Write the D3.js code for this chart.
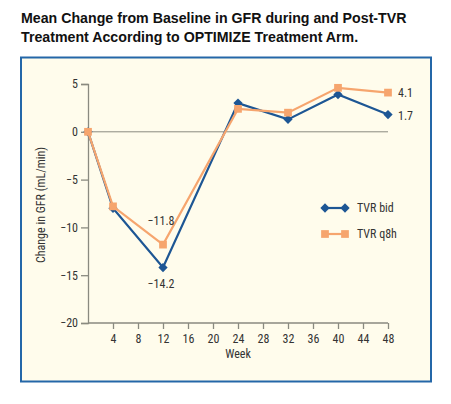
<!DOCTYPE html>
<html><head><meta charset="utf-8">
<script src="https://cdn.jsdelivr.net/npm/d3@7"></script>
<style>
body{margin:0;background:#fff;}
svg text{font-family:"Liberation Sans Narrow","Roboto Condensed","Liberation Sans",Arial,sans-serif;}
</style></head><body>
<svg id="c" width="451" height="404"></svg>
<script>
const weeks = [0, 4, 12, 24, 32, 40, 48];
const tvrBid = [0, -8.0, -14.2, 3.0, 1.3, 3.9, 1.8];
const tvrQ8h = [0, -7.8, -11.8, 2.4, 2.0, 4.6, 4.1];
const xTicks = [4, 8, 12, 16, 20, 24, 28, 32, 36, 40, 44, 48];
const yTicks = [5, 0, -5, -10, -15, -20];
const seriesNames = ["TVR bid", "TVR q8h"];
const annotations = [
  {week: 12, value: -11.8, text: "\u221211.8", series: 1},
  {week: 12, value: -14.2, text: "\u221214.2", series: 0},
  {week: 48, value: 4.1, text: "4.1", series: 1},
  {week: 48, value: 1.7, text: "1.7", series: 0}
];

const svg = d3.select("#c");
const blue = "#1d5694", orange = "#f6a56e", axisCol = "#8a8a80", txt = "#333333";

// title
svg.append("text").attr("x", 21).attr("y", 23).text("Mean Change from Baseline in GFR during and Post-TVR")
  .style("font-family", "Liberation Sans, Arial, sans-serif").style("font-weight", "bold").style("font-size", "14.2px").attr("fill", "#111");
svg.append("text").attr("x", 21).attr("y", 42).text("Treatment According to OPTIMIZE Treatment Arm.")
  .style("font-family", "Liberation Sans, Arial, sans-serif").style("font-weight", "bold").style("font-size", "14.2px").attr("fill", "#111");

// panel
svg.append("rect").attr("x", 21).attr("y", 57.5).attr("width", 410).attr("height", 324)
  .attr("fill", "#fffcec").attr("stroke", "#2467a8").attr("stroke-width", 2);

const x = d3.scaleLinear().domain([0, 48]).range([88, 388]);
const y = d3.scaleLinear().domain([-20, 5]).range([323, 84]);

// zero line
svg.append("line").attr("x1", x(0)).attr("x2", x(48)).attr("y1", y(0)).attr("y2", y(0))
  .attr("stroke", axisCol).attr("stroke-width", 1);

// axes
const yAxis = svg.append("g").attr("transform", `translate(${x(0)},0)`)
  .call(d3.axisLeft(y).tickValues(yTicks).tickSize(7).tickPadding(3)
    .tickFormat(d => d < 0 ? "\u2212" + Math.abs(d) : d));
const xAxis = svg.append("g").attr("transform", `translate(0,${y(-20)})`)
  .call(d3.axisBottom(x).tickValues(xTicks).tickSize(6).tickPadding(5));
[xAxis, yAxis].forEach(g => {
  g.select(".domain").attr("stroke", axisCol).attr("stroke-width", 1.3);
  g.selectAll(".tick line").attr("stroke", axisCol).attr("stroke-width", 1.3);
  g.selectAll(".tick text").attr("fill", txt).style("font-size", "12px");
});
xAxis.select(".domain").attr("d", `M${x(0)},0H${x(48)}`);

// axis titles
svg.append("text").attr("x", x(24)).attr("y", 358).attr("text-anchor", "middle")
  .attr("fill", txt).style("font-size", "12px").text("Week");
svg.append("text").attr("transform", "translate(45,205) rotate(-90)").attr("text-anchor", "middle")
  .attr("fill", txt).style("font-size", "12px").text("Change in GFR (mL/min)");

const line = d3.line().x(d => x(d[0])).y(d => y(d[1]));
const series = [
  {name: seriesNames[0], vals: tvrBid, color: blue, shape: d3.symbolDiamond2, size: 55},
  {name: seriesNames[1], vals: tvrQ8h, color: orange, shape: d3.symbolSquare, size: 60}
];
series.forEach(s => {
  const pts = weeks.map((w, i) => [w, s.vals[i]]);
  svg.append("path").attr("d", line(pts)).attr("fill", "none").attr("stroke", s.color).attr("stroke-width", 2.2);
  svg.selectAll(null).data(pts).enter().append("path")
    .attr("transform", d => `translate(${x(d[0])},${y(d[1])})`)
    .attr("d", d3.symbol().type(s.shape).size(s.size)).attr("fill", s.color);
});

// annotations
annotations.forEach(a => {
  const g = svg.append("text").attr("fill", txt).style("font-size", "12px").text(a.text);
  if (a.week === 48) {
    g.attr("x", x(48) + 10).attr("y", y(a.value) + 4);
  } else if (a.series === 1) {
    g.attr("x", x(a.week) - 2).attr("y", y(a.value) - 20).attr("text-anchor", "middle");
  } else {
    g.attr("x", x(a.week) - 2).attr("y", y(a.value) + 20).attr("text-anchor", "middle");
  }
});

// legend
series.forEach((s, i) => {
  const ly = 208 + i * 26;
  svg.append("line").attr("x1", 325).attr("x2", 345).attr("y1", ly).attr("y2", ly)
    .attr("stroke", s.color).attr("stroke-width", 2.2);
  [325, 345].forEach(px => svg.append("path").attr("transform", `translate(${px},${ly})`)
    .attr("d", d3.symbol().type(s.shape).size(s.size)).attr("fill", s.color));
  svg.append("text").attr("x", 357).attr("y", ly + 4).attr("fill", txt).style("font-size", "12px").text(s.name);
});
</script></body></html>
